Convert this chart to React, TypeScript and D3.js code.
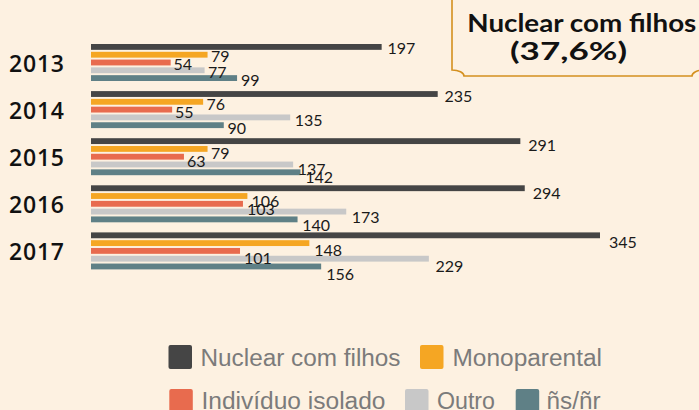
import React from "react";
import * as d3 from "d3";

const years = ["2013", "2014", "2015", "2016", "2017"];
const seriesNames = ["Nuclear com filhos", "Monoparental", "Indivíduo isolado", "Outro", "ñs/ñr"];
const seriesColors = ["#454545", "#F5A623", "#E86B4E", "#C8C8C8", "#5F8086"];
const nuclear = [197, 235, 291, 294, 345];
const mono = [79, 76, 79, 106, 148];
const isolado = [54, 55, 63, 103, 101];
const outro = [77, 135, 137, 173, 229];
const nsnr = [99, 90, 142, 140, 156];
const titleLines = ["Nuclear com filhos", "(37,6%)"];

const W = 699;
const H = 410;
const BG = "#FDF1E1";

export default function App() {
  const series = [nuclear, mono, isolado, outro, nsnr];
  const maxV = d3.max(nuclear) as number;
  const x = d3.scaleLinear().domain([0, maxV]).range([91, 600]);
  const xLabel = d3.scaleLinear().domain([0, maxV]).range([92.8, 609]);
  const y = d3.scaleBand<string>().domain(years).range([44, 269.4]).paddingInner(0.2144).paddingOuter(0);
  const yInner = d3.scaleBand<string>().domain(seriesNames).range([0, y.bandwidth()]).paddingInner(0.25).paddingOuter(0);
  const yLabel = d3.scaleLinear().domain([44, 270]).range([45, 277.8]);

  const legendLayout = [
    { x: 168.5, row: 0, tx: 200.5, w: 200 },
    { x: 420, row: 0, tx: 452.5, w: 149.5 },
    { x: 169.3, row: 1, tx: 201.5, w: 184 },
    { x: 405, row: 1, tx: 437, w: 58 },
    { x: 515.7, row: 1, tx: 546.5, w: 54 },
  ];
  const rowY = [345, 389];
  const rowBase = [365.5, 408.5];

  const boxPath =
    "M452,-10 L452,70 A12 6 0 0 1 464,76 L692,76 A12 6 0 0 1 704,70 L704,-10";

  const bars: React.ReactNode[] = [];
  const labels: React.ReactNode[] = [];
  years.forEach((yr, gi) => {
    const g0 = y(yr) as number;
    seriesNames.forEach((s, si) => {
      const v = series[si][gi];
      const by = g0 + (yInner(s) as number);
      const cy = by + yInner.bandwidth() / 2;
      bars.push(
        <rect key={yr + s} x={x(0)} y={by} width={x(v) - x(0)} height={yInner.bandwidth()} fill={seriesColors[si]} />
      );
      labels.push(
        <text key={yr + s} x={xLabel(v)} y={yLabel(cy) + 5.8} fontFamily="Lato" fontSize={16} fill="#1a1a1a">
          {v}
        </text>
      );
    });
  });

  return (
    <svg width={W} height={H} style={{ position: "absolute", left: 0, top: 0, display: "block" }}>
      <rect x={0} y={0} width={W} height={H} fill={BG} />
      <path d={boxPath} fill={BG} stroke="#D4901F" strokeWidth={1.6} />
      <text x={467.3} y={31.7} textLength={229} lengthAdjust="spacingAndGlyphs" fontFamily="Lato" fontWeight={700} fontSize={25.5} fill="#111">
        {titleLines[0]}
      </text>
      <text x={510} y={60} textLength={117} lengthAdjust="spacingAndGlyphs" fontFamily="Lato" fontWeight={700} fontSize={25.5} fill="#111">
        {titleLines[1]}
      </text>

      {years.map((yr) => {
        const g0 = y(yr) as number;
        return (
          <text
            key={yr}
            x={9}
            y={g0 + y.bandwidth() / 2 + 9.2}
            textLength={55}
            lengthAdjust="spacing"
            fontFamily="Open Sans"
            fontWeight={600}
            fontSize={23}
            fill="#111"
          >
            {yr}
          </text>
        );
      })}

      {bars}
      {labels}

      {seriesNames.map((s, i) => {
        const l = legendLayout[i];
        return (
          <g key={s}>
            <rect x={l.x} y={rowY[l.row]} width={23.5} height={24} rx={2} fill={seriesColors[i]} />
            <text
              x={l.tx}
              y={rowBase[l.row]}
              textLength={l.w}
              lengthAdjust="spacingAndGlyphs"
              fontFamily="Liberation Sans, Arial, sans-serif"
              fontSize={23}
              fill="#7B7B7B"
            >
              {s}
            </text>
          </g>
        );
      })}
    </svg>
  );
}
